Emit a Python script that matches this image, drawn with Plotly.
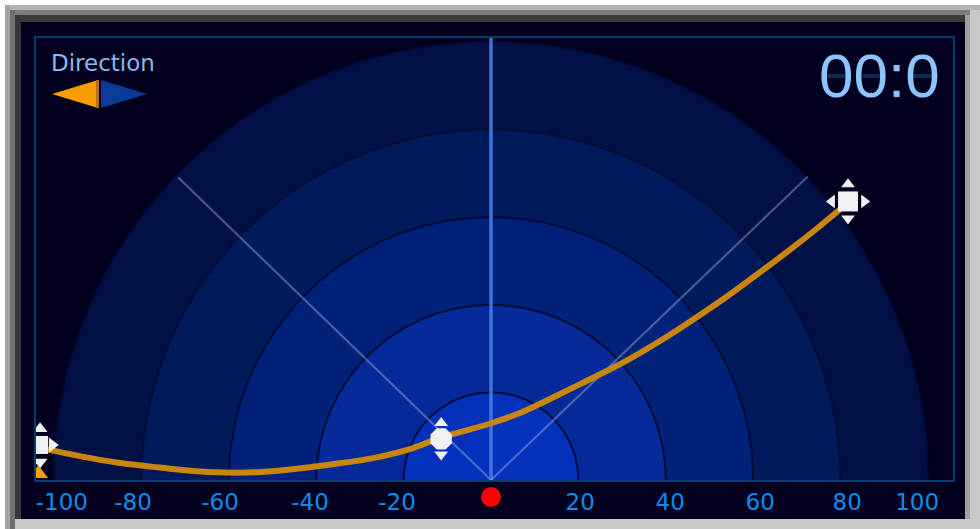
import numpy as np
import plotly.graph_objects as go

W, H = 980, 529
L, R, T, B = 36, 953, 38, 480

# --- data ---
ring_radii = [100, 80, 60, 40, 20]
ring_colors = ["#011045", "#011a5c", "#02227a", "#032a98", "#0431bc"]
tick_labels = ["-100", "-80", "-60", "-40", "-20", "20", "40", "60", "80", "100"]
tick_positions = [-98.2, -81.9, -62, -41.4, -21.5, 20.4, 41, 61.6, 81.5, 97.5]
curve_x = [-102.1, -96.3, -89.5, -84.9, -77.3, -68.9, -60.9, -52.9, -46, -36.2, -27, -17.8, -11.7,
           -0.2, 7.3, 15.1, 20.4, 30.2, 39.4, 46.2, 54, 62.2, 69.1, 75.3, 79.9]
curve_y = [7.1, 5.9, 4.6, 3.9, 3.0, 2.1, 1.7, 1.8, 2.4, 3.6, 5.0, 7.3, 9.6,
           12.9, 15.6, 19.3, 21.9, 26.8, 32.2, 36.6, 41.9, 47.9, 53.1, 58.0, 61.8]
spoke_x = [-71.6, 0, 72.5]
spoke_y = [69.1, 100.9, 69.3]
handle_x = [-103.4, -11.4, 81.7]
handle_y = [8.0, 9.4, 63.6]

fig = go.Figure()

theta = np.linspace(0, np.pi, 240)
for r, c in zip(ring_radii, ring_colors):
    fig.add_trace(go.Scatter(x=r * np.cos(theta), y=r * np.sin(theta), mode="lines",
                             fill="toself", fillcolor=c,
                             line=dict(color="#000b38", width=2), hoverinfo="skip"))

for sx, sy in zip(spoke_x, spoke_y):
    is_mid = sx == 0
    fig.add_trace(go.Scatter(x=[0, sx], y=[0, sy], mode="lines",
                             line=dict(color="#3f74d8" if is_mid else "rgba(190,205,235,0.36)",
                                       width=3.5 if is_mid else 2.2), hoverinfo="skip"))

fig.add_trace(go.Scatter(x=curve_x, y=curve_y, mode="lines",
                         line=dict(color="#c8860f", width=6, shape="spline", smoothing=0.8), hoverinfo="skip"))

WHITE = "#f0f0f2"
def mark(x, y, sym, size, color=WHITE):
    fig.add_trace(go.Scatter(x=[x], y=[y], mode="markers", hoverinfo="skip",
                             marker=dict(symbol=sym, size=size, color=color, line=dict(width=0))))

# left handle (clipped by the plot frame)
mark(handle_x[0], handle_y[0], "square", 18)
mark(handle_x[0] + 3.0, handle_y[0], "triangle-right", 13)
mark(handle_x[0] + 0.2, handle_y[0] + 3.7, "triangle-up", 13)
mark(handle_x[0] + 0.2, handle_y[0] - 3.9, "triangle-down", 13)
mark(handle_x[0] - 0.2, 1.4, "triangle-up", 17, "#f5a000")
# middle handle
mark(handle_x[1], handle_y[1], "octagon", 23)
mark(handle_x[1], handle_y[1] + 3.6, "triangle-up", 12)
mark(handle_x[1], handle_y[1] - 3.6, "triangle-down", 12)
# right handle
mark(handle_x[2], handle_y[2], "square", 20)
mark(handle_x[2], handle_y[2] + 3.9, "triangle-up", 12)
mark(handle_x[2], handle_y[2] - 3.9, "triangle-down", 12)
mark(handle_x[2] - 3.7, handle_y[2], "triangle-left", 12)
mark(handle_x[2] + 3.7, handle_y[2], "triangle-right", 12)

def px(x): return (x - L) / (R - L)
def py(y): return (B - y) / (B - T)
def rect(x0, y0, x1, y1, color):
    return dict(type="rect", xref="paper", yref="paper", x0=px(x0), x1=px(x1), y0=py(y1), y1=py(y0),
                fillcolor=color, line=dict(width=0), layer="below")
def poly(pts, color, layer="above"):
    d = "M" + " L".join(f"{px(a):.5f},{py(b):.5f}" for a, b in pts) + " Z"
    return dict(type="path", xref="paper", yref="paper", path=d, fillcolor=color,
                line=dict(width=0), layer=layer)

shapes = [
    rect(0, 0, W, H, "#c4c4c4"),
    rect(0, 0, W, 5, "#ffffff"),
    rect(0, 0, 5, H, "#ffffff"),
    rect(5, 5, W, 10, "#b4b4b4"),
    rect(5, 10, W, 15, "#7d7d7d"),
    rect(14, 15, W, 22, "#3c3c3c"),
    rect(5, 5, 10, H, "#a4a4a4"),
    rect(10, 10, 15, H, "#707070"),
    rect(15, 15, 21, H, "#383838"),
    rect(965, 15, 970, H, "#a0a0a0"),
    rect(970, 10, W, H, "#c8c8c8"),
    rect(15, 519, W, H, "#c8c8c8"),
    rect(21, 22, 965, 519, "#00001e"),
    poly([(52, 94), (98, 80), (98, 108)], "#fa9e00"),
    poly([(96, 80), (99, 80), (99, 108), (96, 108)], "#b86e20"),
    poly([(101, 80), (147, 94), (101, 108)], "#0a3a9a"),
    dict(type="circle", xref="paper", yref="paper", x0=px(481), x1=px(501), y0=py(507), y1=py(487),
         fillcolor="#ff0000", line=dict(width=0), layer="above"),
]
for x0 in (825, 863, 913):
    shapes.append(rect(x0, 74, x0 + 20, 78, "#0a2a50"))

fig.update_layout(
    width=W, height=H, margin=dict(l=L, r=W - R, t=T, b=H - B, pad=0),
    paper_bgcolor="#c4c4c4", plot_bgcolor="rgba(0,0,0,0)", showlegend=False,
    shapes=shapes,
    xaxis=dict(range=[(L - 491) / 4.37, (R - 491) / 4.37], tickvals=tick_positions, ticktext=tick_labels,
               showgrid=False, zeroline=False, showline=True, mirror=True, linecolor="#0a3a70", linewidth=2,
               ticks="", tickfont=dict(family="DejaVu Sans", size=23, color="#0a8cf0"), tickangle=0),
    yaxis=dict(range=[0, (479 - T) / 4.37], showgrid=False, zeroline=False, showline=True, mirror=True,
               linecolor="#0a3a70", linewidth=2, showticklabels=False, ticks=""),
    annotations=[
        dict(xref="paper", yref="paper", x=px(49), y=py(63), xanchor="left", yanchor="middle",
             text="Direction", showarrow=False, font=dict(family="DejaVu Sans", size=23, color="#8ab8e8")),
        dict(xref="paper", yref="paper", x=px(879), y=py(75), xanchor="center", yanchor="middle",
             text="00:0", showarrow=False, font=dict(family="Liberation Sans", size=62, color="#8cc4ff")),
    ],
)
fig.write_html("out.html", config={"displayModeBar": False},
               post_script="document.body.style.margin='0';document.documentElement.style.overflow='hidden';")
